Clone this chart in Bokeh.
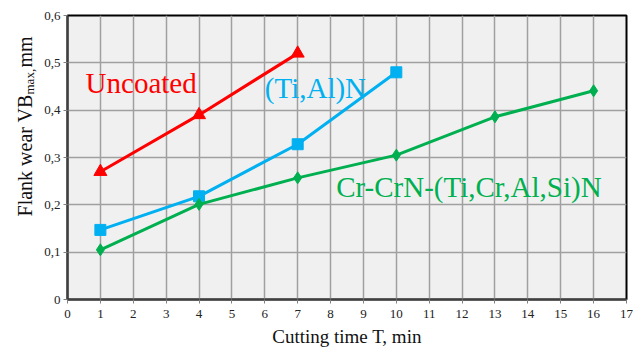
import math
from bokeh.plotting import figure
from bokeh.layouts import row
from bokeh.models import FixedTicker, Label, Range1d
from bokeh.embed import file_html
from bokeh.resources import INLINE

# Data
uncoated_t = [1, 4, 7]
uncoated_vb = [0.27, 0.39, 0.52]
tialn_t = [1, 4, 7, 10]
tialn_vb = [0.147, 0.218, 0.328, 0.48]
crcrn_t = [1, 4, 7, 10, 13, 16]
crcrn_vb = [0.105, 0.201, 0.257, 0.305, 0.386, 0.441]
x_ticks = list(range(0, 18))
y_ticks = [0, 0.1, 0.2, 0.3, 0.4, 0.5, 0.6]
y_tick_labels = ["0", "0,1", "0,2", "0,3", "0,4", "0,5", "0,6"]

FONT = "'Liberation Serif', serif"
RED = "#ff0000"
BLUE = "#00b0f0"
GREEN = "#00b050"

LEFT_W = 40
p = figure(width=642 - LEFT_W, height=349, output_backend="svg", toolbar_location=None,
           x_range=Range1d(0, 17), y_range=Range1d(0, 0.6),
           min_border_left=67 - LEFT_W, min_border_right=16, min_border_top=15,
           min_border_bottom=48)
p.background_fill_color = "#f0f0f0"
p.border_fill_color = "white"
p.outline_line_color = "black"
p.outline_line_width = 2

p.xaxis.ticker = FixedTicker(ticks=x_ticks)
p.yaxis.ticker = FixedTicker(ticks=y_ticks)
p.yaxis.major_label_overrides = {t: l for t, l in zip(y_ticks, y_tick_labels)}
p.xaxis.major_label_overrides = {t: str(t) for t in x_ticks}
for ax in (p.xaxis, p.yaxis):
    ax.major_label_text_font = FONT
    ax.major_label_text_font_size = "13px"
    ax.major_label_text_color = "#222222"
    ax.axis_line_color = "#404040"
    ax.axis_line_width = 2
    ax.major_tick_line_color = "#808080"
    ax.major_tick_in = 0
    ax.major_tick_out = 4
    ax.minor_tick_line_color = None
p.xaxis.major_label_standoff = 6
p.yaxis.major_label_standoff = 3

p.xaxis.axis_label = "Cutting time T, min"
p.xaxis.axis_label_text_font = FONT
p.xaxis.axis_label_text_font_size = "19px"
p.xaxis.axis_label_text_font_style = "normal"
p.xaxis.axis_label_text_color = "#111111"
p.xaxis.axis_label_standoff = 5

p.grid.grid_line_color = "#a0a0a0"
p.grid.grid_line_width = 1.5

p.line(uncoated_t, uncoated_vb, color=RED, line_width=3)
p.scatter(uncoated_t, uncoated_vb, marker="triangle", size=13, color=RED)
p.line(tialn_t, tialn_vb, color=BLUE, line_width=3)
p.scatter(tialn_t, tialn_vb, marker="square", size=11, color=BLUE)
p.line(crcrn_t, crcrn_vb, color=GREEN, line_width=3)
p.scatter(crcrn_t, crcrn_vb, marker="diamond", size=12, color=GREEN)

def lab(x, y, text, color):
    p.add_layout(Label(x=x, y=y, text=text, text_color=color, text_font=FONT,
                       text_font_size="29px", text_baseline="middle", text_align="left"))

lab(0.55, 0.457, "Uncoated", RED)
lab(6.0, 0.447, "(Ti,Al)N", BLUE)
lab(8.17, 0.237, "Cr-CrN-(Ti,Cr,Al,Si)N", GREEN)

# Left strip holding the y axis title (with subscript)
q = figure(width=LEFT_W, height=349, output_backend="svg", toolbar_location=None,
           x_range=Range1d(0, LEFT_W), y_range=Range1d(0, 349),
           min_border=0, min_border_left=0, min_border_right=0,
           min_border_top=0, min_border_bottom=0)
q.axis.visible = False
q.grid.visible = False
q.outline_line_color = None
q.background_fill_color = "white"
parts = [("Flank wear VB", "20px", 0, 0), ("max,", "13px", 5, 122), (" mm", "20px", 0, 149)]
for text, size, xo, yo in parts:
    q.add_layout(Label(x=24, y=102, text=text, text_font=FONT, text_font_size=size,
                       text_color="#111111", angle=math.pi / 2, text_align="left",
                       text_baseline="middle", x_offset=xo, y_offset=yo))

layout = row(q, p, spacing=0)
open("out.html", "w").write(file_html(layout, INLINE))
